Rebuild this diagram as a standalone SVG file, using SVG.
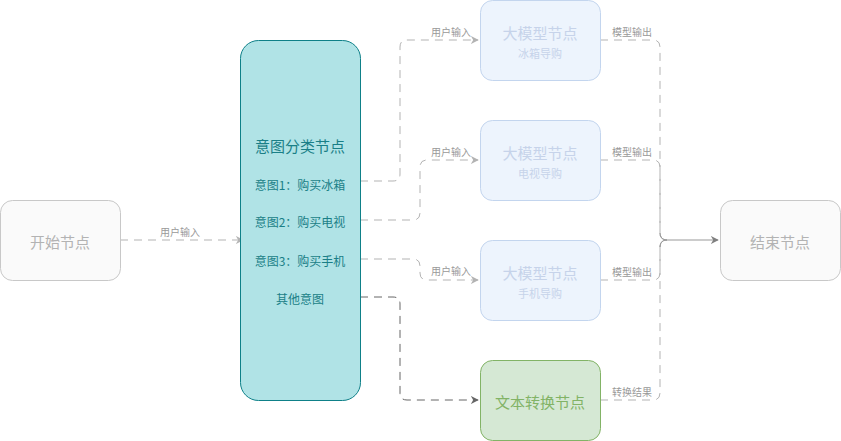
<svg xmlns="http://www.w3.org/2000/svg" width="841" height="441" viewBox="0 0 841 441">
<defs>
<style>
text{font-family:"Noto Sans CJK SC","Liberation Sans",sans-serif;text-anchor:middle;dominant-baseline:central}
.gray rect{fill:#fafafa;stroke:#c8c8c8;stroke-width:1}
.gray text{fill:#b3b3b3;font-size:15px}
.llm rect{fill:#edf4fd;stroke:#c3d5ee;stroke-width:1}
.llm .t{fill:#c6d3ea;font-size:15px}
.llm .s{fill:#c6d3ea;font-size:11px}
.edge{fill:none;stroke:#b3b3b3;stroke-width:1;stroke-dasharray:8 6}
.dark{stroke:#666666}
.lbl{fill:#999999;font-size:10px}
</style>
<marker id="ag" viewBox="0 0 10 10" refX="9" refY="5" markerWidth="8" markerHeight="8" markerUnits="userSpaceOnUse" orient="auto"><path d="M0,0 L10,5 L0,10 L3,5 Z" fill="#b3b3b3"/></marker>
<marker id="ad" viewBox="0 0 10 10" refX="9" refY="5" markerWidth="8" markerHeight="8" markerUnits="userSpaceOnUse" orient="auto"><path d="M0,0 L10,5 L0,10 L3,5 Z" fill="#666666"/></marker>
<marker id="am" viewBox="0 0 10 10" refX="9" refY="5" markerWidth="8" markerHeight="8" markerUnits="userSpaceOnUse" orient="auto"><path d="M0,0 L10,5 L0,10 L3,5 Z" fill="#808080"/></marker>
</defs>

<g id="connectors">
<path class="edge" d="M120,240 H243" marker-end="url(#ag)"/>
<path class="edge" d="M360,181 H393 Q400,181 400,174 V47 Q400,40 407,40 H478" marker-end="url(#ag)"/>
<path class="edge" d="M360,220 H413 Q420,220 420,213 V167 Q420,160 427,160 H478" marker-end="url(#ag)"/>
<path class="edge" d="M360,259 H413 Q420,259 420,266 V273 Q420,280 427,280 H478" marker-end="url(#ag)"/>
<path class="edge dark" d="M360,297 H393 Q400,297 400,304 V393 Q400,400 407,400 H478" marker-end="url(#ad)"/>
<path class="edge" d="M600,40 H653 Q660,40 660,47 V233 Q660,240 667,240"/>
<path class="edge" d="M600,160 H653 Q660,160 660,167 V233 Q660,240 667,240"/>
<path class="edge" d="M600,280 H653 Q660,280 660,273 V247 Q660,240 667,240"/>
<path class="edge" d="M600,400 H653 Q660,400 660,393 V247 Q660,240 667,240"/>
<path d="M660,233 Q660,240 667,240 Q660,240 660,247 M667,240 H718" fill="none" stroke="#999999" stroke-width="1" marker-end="url(#am)"/>
<text class="lbl" x="180" y="231">用户输入</text>
<text class="lbl" x="451" y="31">用户输入</text>
<text class="lbl" x="451" y="151">用户输入</text>
<text class="lbl" x="451" y="270">用户输入</text>
<text class="lbl" x="632" y="31">模型输出</text>
<text class="lbl" x="632" y="151">模型输出</text>
<text class="lbl" x="632" y="271">模型输出</text>
<text class="lbl" x="632" y="391">转换结果</text>
</g>

<g id="start" class="gray">
<rect x="0.5" y="200.5" width="120" height="80" rx="12"/>
<text x="60" y="241">开始节点</text>
</g>

<g id="intent">
<rect x="240.5" y="40.5" width="120" height="360" rx="18" fill="#b0e3e6" stroke="#0e8088" stroke-width="1"/>
<text x="300" y="145" font-size="15" fill="#1a7f87">意图分类节点</text>
<text x="300" y="184" font-size="12" fill="#1a7f87">意图1：购买冰箱</text>
<text x="300" y="221" font-size="12" fill="#1a7f87">意图2：购买电视</text>
<text x="300" y="260" font-size="12" fill="#1a7f87">意图3：购买手机</text>
<text x="300" y="298" font-size="12" fill="#1a7f87">其他意图</text>
</g>

<g id="llm1" class="llm">
<rect x="480.5" y="0.5" width="120" height="80" rx="12"/>
<text class="t" x="540" y="32">大模型节点</text>
<text class="s" x="540" y="53">冰箱导购</text>
</g>
<g id="llm2" class="llm">
<rect x="480.5" y="120.5" width="120" height="80" rx="12"/>
<text class="t" x="540" y="152">大模型节点</text>
<text class="s" x="540" y="173">电视导购</text>
</g>
<g id="llm3" class="llm">
<rect x="480.5" y="240.5" width="120" height="80" rx="12"/>
<text class="t" x="540" y="272">大模型节点</text>
<text class="s" x="540" y="293">手机导购</text>
</g>

<g id="convert">
<rect x="480.5" y="360.5" width="120" height="80" rx="12" fill="#d5e8d4" stroke="#82b366" stroke-width="1"/>
<text x="540" y="401" font-size="15" fill="#82b366">文本转换节点</text>
</g>

<g id="end" class="gray">
<rect x="720.5" y="200.5" width="120" height="80" rx="12"/>
<text x="780" y="241">结束节点</text>
</g>
</svg>
